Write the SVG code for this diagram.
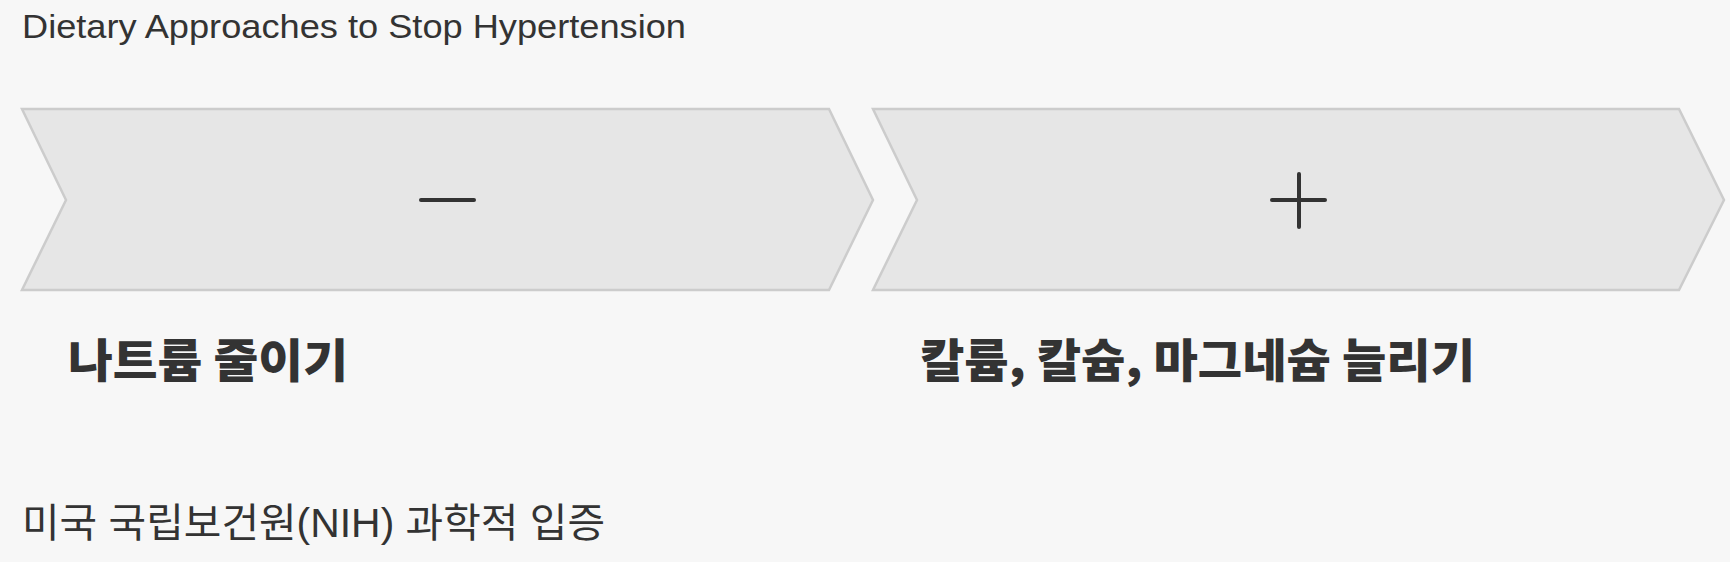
<svg xmlns="http://www.w3.org/2000/svg" width="1730" height="562" viewBox="0 0 1730 562">
<style>
.chev{fill:#e6e6e6;stroke:#cccccc;stroke-width:2.5}
.sym{stroke:#333;stroke-width:4;stroke-linecap:round;fill:none}
.t{font-family:"Liberation Sans","Noto Sans CJK KR",sans-serif;fill:#333}
.lbl{font-family:"Noto Sans CJK KR",sans-serif;font-weight:900;fill:#333;font-size:46px}
</style>
<rect width="1730" height="562" fill="#f7f7f7"/>
<text class="t" x="22" y="38" font-size="34" textLength="664" lengthAdjust="spacingAndGlyphs">Dietary Approaches to Stop Hypertension</text>
<g id="step1">
<polygon class="chev" points="22,109 829,109 873,200 829,290 22,290 66,200"/>
<line class="sym" x1="421" y1="200" x2="474" y2="200"/>
<text class="lbl" x="68" y="377" textLength="280" lengthAdjust="spacingAndGlyphs">나트륨 줄이기</text>
</g>
<g id="step2">
<polygon class="chev" points="873,109 1679,109 1724,200 1679,290 873,290 917,200"/>
<line class="sym" x1="1272" y1="200" x2="1325" y2="200"/>
<line class="sym" x1="1299" y1="174" x2="1299" y2="227"/>
<text class="lbl" x="920" y="377" textLength="555" lengthAdjust="spacingAndGlyphs">칼륨, 칼슘, 마그네슘 늘리기</text>
</g>
<g id="connectors"/>
<text class="t" x="22" y="537" font-size="40" textLength="583" lengthAdjust="spacingAndGlyphs">미국 국립보건원(NIH) 과학적 입증</text>
</svg>
